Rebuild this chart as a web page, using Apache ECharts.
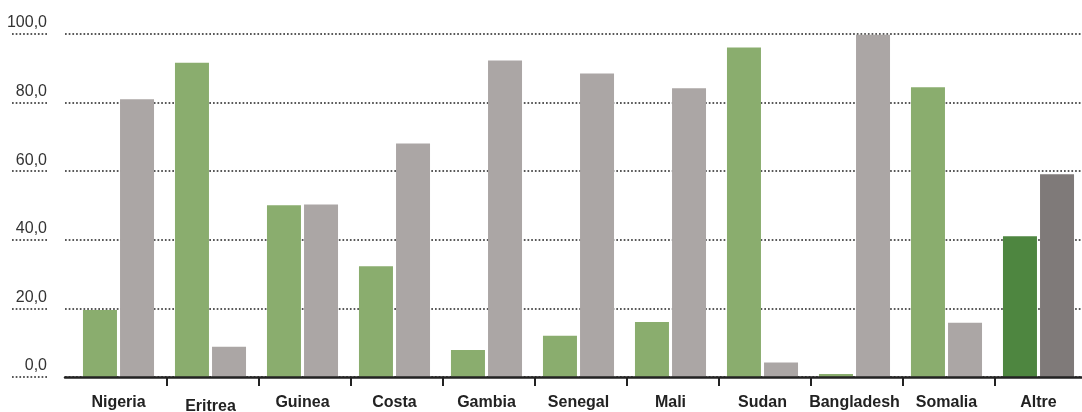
<!DOCTYPE html>
<html>
<head>
<meta charset="utf-8">
<script src="https://cdn.jsdelivr.net/npm/echarts@6/dist/echarts.min.js"></script>
<style>
html,body{margin:0;padding:0;background:#fff;}
#chart{width:1082px;height:412px;}
</style>
</head>
<body>
<div id="chart"></div>
<script>
const categories = ['Nigeria','Eritrea','Guinea','Costa','Gambia','Senegal','Mali','Sudan','Bangladesh','Somalia','Altre'];
const greenValues = [19.5, 91.6, 50.1, 32.3, 7.9, 12.0, 16.0, 96.1, 0.9, 84.5, 41.0];
const grayValues  = [81.0, 8.8, 50.3, 68.1, 92.3, 88.5, 84.2, 4.2, 99.8, 15.8, 59.1];
const yMin = 0, yMax = 100, yStep = 20;
const highlightCategory = 'Altre';

const GREEN = '#8aad6e', GREEN_DARK = '#4e8640';
const GRAY = '#aba6a5', GRAY_DARK = '#7f7a79';
const FONT = "'Liberation Sans','Arimo',Arial,sans-serif";
const dotted = {color:'#222', width:1.7, type:[1.7,2.0]};

const chart = echarts.init(document.getElementById('chart'), null, {renderer:'canvas'});

function mk(values, base, hi){
  return values.map((v,i)=> categories[i]===highlightCategory ? {value:v, itemStyle:{color:hi}} : {value:v, itemStyle:{color:base}});
}

const labelData = categories.map(c => c==='Eritrea' ? {value:c, textStyle:{padding:[4,0,0,0]}} : c);

const option = {
  animation:false,
  grid:[
    {left:65, width:1017, top:34, bottom:35, containLabel:false, outerBoundsMode:'none'},
    {left:72.5, width:1012, top:34, bottom:35, containLabel:false, outerBoundsMode:'none'},
    {left:75, width:1012, top:34, bottom:35, containLabel:false, outerBoundsMode:'none'}
  ],
  xAxis:[
    {type:'category', gridIndex:0, data:categories, axisLine:{show:true, lineStyle:{color:'#222', width:2.5}}, axisTick:{show:false}, axisLabel:{show:false}, splitLine:{show:false}, z:5},
    {type:'category', gridIndex:1, data:labelData, axisLine:{show:false}, axisTick:{show:false},
      axisLabel:{show:true, interval:0, color:'#222', fontFamily:FONT, fontWeight:'bold', fontSize:16, lineHeight:16, margin:18}},
    {type:'category', gridIndex:2, data:categories, axisLine:{show:false},
      axisTick:{show:true, length:9, interval:function(i){return i>0;}, lineStyle:{color:'#222', width:2}}, axisLabel:{show:false}}
  ],
  yAxis:[
    {type:'value', gridIndex:0, min:yMin, max:yMax, interval:yStep, offset:18,
      axisLine:{show:false},
      axisTick:{show:true, length:36, lineStyle:dotted},
      splitLine:{show:true, lineStyle:dotted},
      axisLabel:{show:true, margin:0, color:'#333', fontFamily:FONT, fontSize:16, lineHeight:16, verticalAlign:'bottom', padding:[0,0,3,0],
        formatter:function(v){return v.toFixed(1).replace('.',',');}}},
    {type:'value', gridIndex:1, min:yMin, max:yMax, interval:yStep, show:false},
    {type:'value', gridIndex:2, min:yMin, max:yMax, interval:yStep, show:false}
  ],
  series:[
    {type:'bar', xAxisIndex:1, yAxisIndex:1, data:mk(greenValues, GREEN, GREEN_DARK), barWidth:34, barGap:'9%', z:2},
    {type:'bar', xAxisIndex:1, yAxisIndex:1, data:mk(grayValues, GRAY, GRAY_DARK), barWidth:34, barGap:'9%', z:2}
  ]
};
chart.setOption(option);
</script>
</body>
</html>
